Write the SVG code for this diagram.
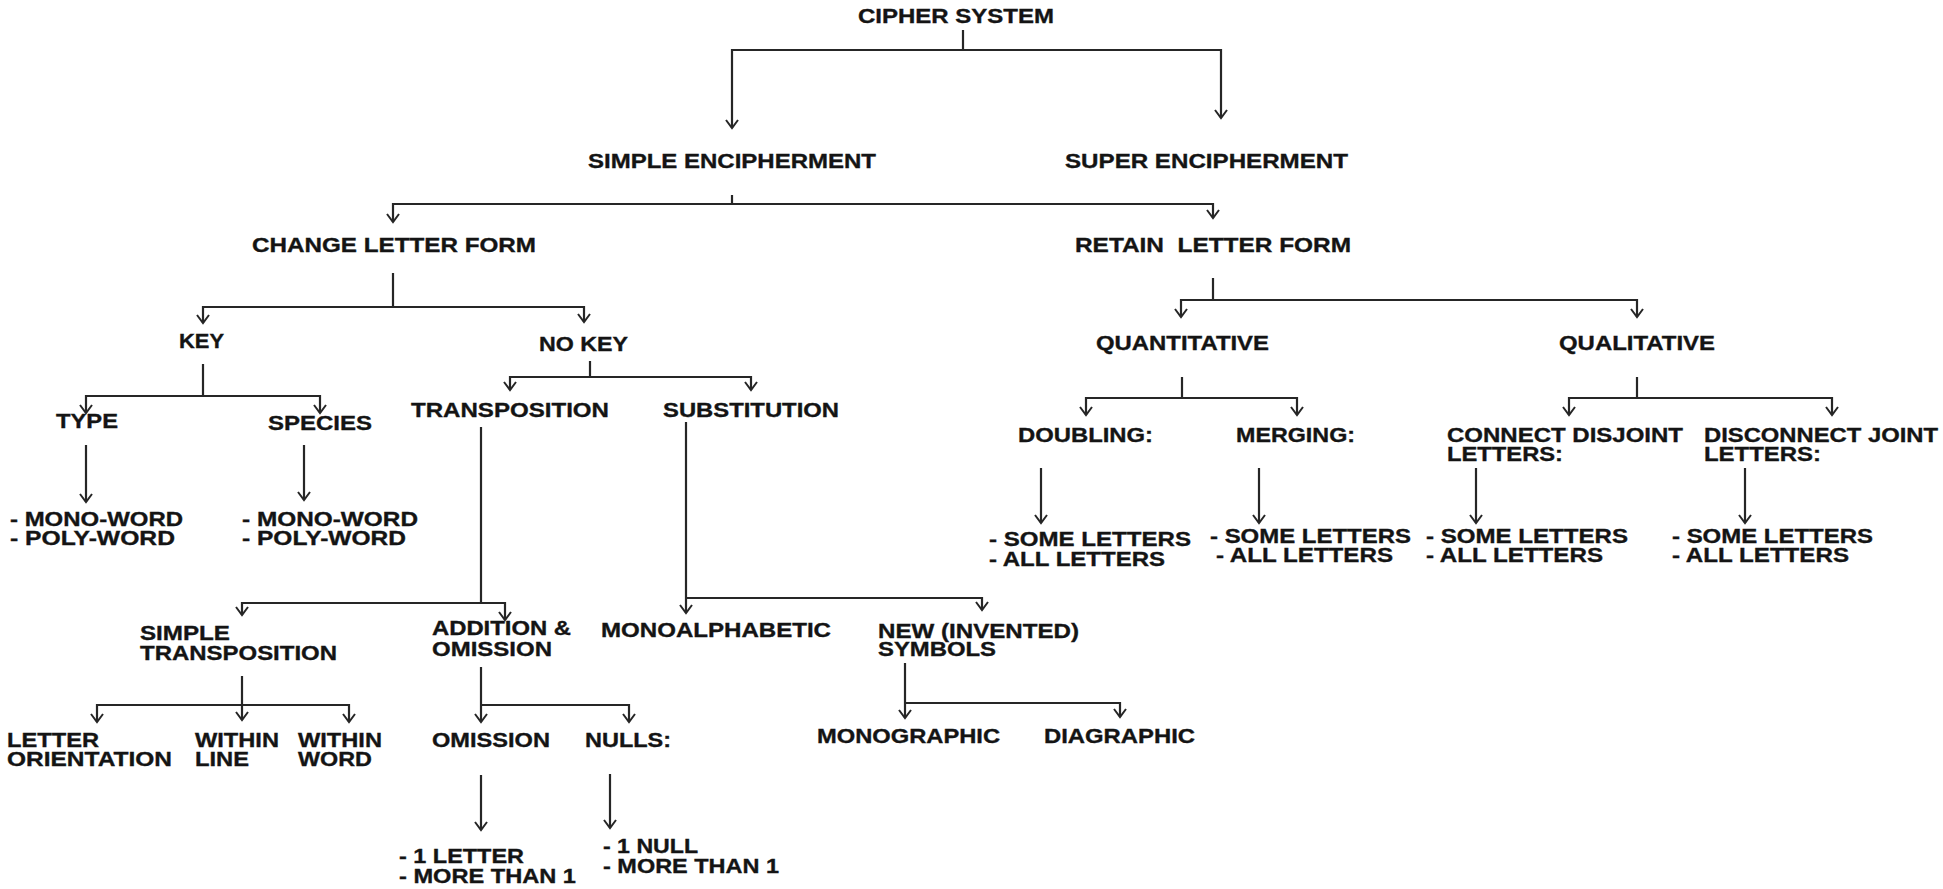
<svg xmlns="http://www.w3.org/2000/svg" width="1943" height="889" viewBox="0 0 1943 889">
<defs>
<style>
text{font-family:"Liberation Sans",Arial,sans-serif;font-weight:bold;font-size:21px;fill:#141414;stroke:#141414;stroke-width:0.35px;}
.c{fill:none;stroke:#262626;stroke-width:2.2;}
</style>
<marker id="ah" markerUnits="userSpaceOnUse" markerWidth="20" markerHeight="20" refX="0" refY="0" orient="auto" overflow="visible">
<path d="M-8,-6 L0,0 L-8,6" fill="none" stroke="#262626" stroke-width="2"/>
</marker>
</defs>
<rect width="1943" height="889" fill="#ffffff"/>
<g id="connectors">
<path class="c" d="M963 30 V50"/>
<path class="c" d="M963 50 H732 V128" marker-end="url(#ah)"/>
<path class="c" d="M963 50 H1221 V118" marker-end="url(#ah)"/>
<path class="c" d="M732 195 V204"/>
<path class="c" d="M732 204 H393 V222" marker-end="url(#ah)"/>
<path class="c" d="M732 204 H1213 V218" marker-end="url(#ah)"/>
<path class="c" d="M393 273 V307"/>
<path class="c" d="M393 307 H203 V323" marker-end="url(#ah)"/>
<path class="c" d="M393 307 H584 V322" marker-end="url(#ah)"/>
<path class="c" d="M203 364 V396"/>
<path class="c" d="M203 396 H86 V413" marker-end="url(#ah)"/>
<path class="c" d="M203 396 H320 V413" marker-end="url(#ah)"/>
<path class="c" d="M86 445 V502" marker-end="url(#ah)"/>
<path class="c" d="M304 445 V500" marker-end="url(#ah)"/>
<path class="c" d="M590 361 V377"/>
<path class="c" d="M590 377 H510 V390" marker-end="url(#ah)"/>
<path class="c" d="M590 377 H751 V390" marker-end="url(#ah)"/>
<path class="c" d="M481 427 V603"/>
<path class="c" d="M481 603 H242 V615" marker-end="url(#ah)"/>
<path class="c" d="M481 603 H505 V620" marker-end="url(#ah)"/>
<path class="c" d="M686 422 V613" marker-end="url(#ah)"/>
<path class="c" d="M686 598 H982 V610" marker-end="url(#ah)"/>
<path class="c" d="M242 676 V720" marker-end="url(#ah)"/>
<path class="c" d="M242 705 H97 V722" marker-end="url(#ah)"/>
<path class="c" d="M242 705 H349 V722" marker-end="url(#ah)"/>
<path class="c" d="M481 667 V722" marker-end="url(#ah)"/>
<path class="c" d="M481 705 H629 V722" marker-end="url(#ah)"/>
<path class="c" d="M481 775 V830" marker-end="url(#ah)"/>
<path class="c" d="M610 774 V828" marker-end="url(#ah)"/>
<path class="c" d="M905 663 V718" marker-end="url(#ah)"/>
<path class="c" d="M905 703 H1120 V717" marker-end="url(#ah)"/>
<path class="c" d="M1213 278 V300"/>
<path class="c" d="M1213 300 H1181 V317" marker-end="url(#ah)"/>
<path class="c" d="M1213 300 H1637 V317" marker-end="url(#ah)"/>
<path class="c" d="M1182 377 V398"/>
<path class="c" d="M1182 398 H1086 V415" marker-end="url(#ah)"/>
<path class="c" d="M1182 398 H1297 V415" marker-end="url(#ah)"/>
<path class="c" d="M1637 377 V398"/>
<path class="c" d="M1637 398 H1569 V415" marker-end="url(#ah)"/>
<path class="c" d="M1637 398 H1832 V415" marker-end="url(#ah)"/>
<path class="c" d="M1041 468 V523" marker-end="url(#ah)"/>
<path class="c" d="M1259 468 V523" marker-end="url(#ah)"/>
<path class="c" d="M1476 468 V523" marker-end="url(#ah)"/>
<path class="c" d="M1745 468 V523" marker-end="url(#ah)"/>
</g>
<g id="cipher-system"><text x="858" y="23" textLength="196" lengthAdjust="spacingAndGlyphs">CIPHER SYSTEM</text></g>
<g id="simple-encipherment"><text x="588" y="168" textLength="288" lengthAdjust="spacingAndGlyphs">SIMPLE ENCIPHERMENT</text></g>
<g id="super-encipherment"><text x="1065" y="168" textLength="283" lengthAdjust="spacingAndGlyphs">SUPER ENCIPHERMENT</text></g>
<g id="change-letter-form"><text x="252" y="252" textLength="284" lengthAdjust="spacingAndGlyphs">CHANGE LETTER FORM</text></g>
<g id="retain-letter-form"><text x="1075" y="252" textLength="276" lengthAdjust="spacingAndGlyphs" xml:space="preserve">RETAIN  LETTER FORM</text></g>
<g id="key"><text x="179" y="348" textLength="45" lengthAdjust="spacingAndGlyphs">KEY</text></g>
<g id="no-key"><text x="539" y="351" textLength="89" lengthAdjust="spacingAndGlyphs">NO KEY</text></g>
<g id="type"><text x="56" y="428" textLength="62" lengthAdjust="spacingAndGlyphs">TYPE</text></g>
<g id="species"><text x="268" y="430" textLength="104" lengthAdjust="spacingAndGlyphs">SPECIES</text></g>
<g id="type-list">
<text x="10" y="526" textLength="173" lengthAdjust="spacingAndGlyphs">- MONO-WORD</text>
<text x="10" y="545" textLength="165" lengthAdjust="spacingAndGlyphs">- POLY-WORD</text>
</g>
<g id="species-list">
<text x="242" y="526" textLength="176" lengthAdjust="spacingAndGlyphs">- MONO-WORD</text>
<text x="242" y="545" textLength="164" lengthAdjust="spacingAndGlyphs">- POLY-WORD</text>
</g>
<g id="transposition"><text x="411" y="417" textLength="198" lengthAdjust="spacingAndGlyphs">TRANSPOSITION</text></g>
<g id="substitution"><text x="663" y="417" textLength="176" lengthAdjust="spacingAndGlyphs">SUBSTITUTION</text></g>
<g id="simple-transposition">
<text x="140" y="640" textLength="90" lengthAdjust="spacingAndGlyphs">SIMPLE</text>
<text x="140" y="660" textLength="197" lengthAdjust="spacingAndGlyphs">TRANSPOSITION</text>
</g>
<g id="addition-omission">
<text x="432" y="635" textLength="139" lengthAdjust="spacingAndGlyphs">ADDITION &amp;</text>
<text x="432" y="656" textLength="120" lengthAdjust="spacingAndGlyphs">OMISSION</text>
</g>
<g id="monoalphabetic"><text x="601" y="637" textLength="230" lengthAdjust="spacingAndGlyphs">MONOALPHABETIC</text></g>
<g id="new-invented-symbols">
<text x="878" y="638" textLength="201" lengthAdjust="spacingAndGlyphs">NEW (INVENTED)</text>
<text x="878" y="656" textLength="118" lengthAdjust="spacingAndGlyphs">SYMBOLS</text>
</g>
<g id="letter-orientation">
<text x="7" y="747" textLength="92" lengthAdjust="spacingAndGlyphs">LETTER</text>
<text x="7" y="766" textLength="165" lengthAdjust="spacingAndGlyphs">ORIENTATION</text>
</g>
<g id="within-line">
<text x="195" y="747" textLength="84" lengthAdjust="spacingAndGlyphs">WITHIN</text>
<text x="195" y="766" textLength="54" lengthAdjust="spacingAndGlyphs">LINE</text>
</g>
<g id="within-word">
<text x="298" y="747" textLength="84" lengthAdjust="spacingAndGlyphs">WITHIN</text>
<text x="298" y="766" textLength="74" lengthAdjust="spacingAndGlyphs">WORD</text>
</g>
<g id="omission"><text x="432" y="747" textLength="118" lengthAdjust="spacingAndGlyphs">OMISSION</text></g>
<g id="nulls"><text x="585" y="747" textLength="86" lengthAdjust="spacingAndGlyphs">NULLS:</text></g>
<g id="omission-list">
<text x="399" y="863" textLength="125" lengthAdjust="spacingAndGlyphs">- 1 LETTER</text>
<text x="399" y="883" textLength="177" lengthAdjust="spacingAndGlyphs">- MORE THAN 1</text>
</g>
<g id="nulls-list">
<text x="603" y="853" textLength="95" lengthAdjust="spacingAndGlyphs">- 1 NULL</text>
<text x="603" y="873" textLength="176" lengthAdjust="spacingAndGlyphs">- MORE THAN 1</text>
</g>
<g id="monographic"><text x="817" y="743" textLength="183" lengthAdjust="spacingAndGlyphs">MONOGRAPHIC</text></g>
<g id="diagraphic"><text x="1044" y="743" textLength="151" lengthAdjust="spacingAndGlyphs">DIAGRAPHIC</text></g>
<g id="quantitative"><text x="1096" y="350" textLength="173" lengthAdjust="spacingAndGlyphs">QUANTITATIVE</text></g>
<g id="qualitative"><text x="1559" y="350" textLength="156" lengthAdjust="spacingAndGlyphs">QUALITATIVE</text></g>
<g id="doubling"><text x="1018" y="442" textLength="135" lengthAdjust="spacingAndGlyphs">DOUBLING:</text></g>
<g id="merging"><text x="1236" y="442" textLength="119" lengthAdjust="spacingAndGlyphs">MERGING:</text></g>
<g id="connect-disjoint">
<text x="1447" y="442" textLength="236" lengthAdjust="spacingAndGlyphs">CONNECT DISJOINT</text>
<text x="1447" y="461" textLength="116" lengthAdjust="spacingAndGlyphs">LETTERS:</text>
</g>
<g id="disconnect-joint">
<text x="1704" y="442" textLength="234" lengthAdjust="spacingAndGlyphs">DISCONNECT JOINT</text>
<text x="1704" y="461" textLength="117" lengthAdjust="spacingAndGlyphs">LETTERS:</text>
</g>
<g id="doubling-list">
<text x="989" y="546" textLength="202" lengthAdjust="spacingAndGlyphs">- SOME LETTERS</text>
<text x="989" y="566" textLength="176" lengthAdjust="spacingAndGlyphs">- ALL LETTERS</text>
</g>
<g id="merging-list">
<text x="1210" y="543" textLength="201" lengthAdjust="spacingAndGlyphs">- SOME LETTERS</text>
<text x="1216" y="562" textLength="177" lengthAdjust="spacingAndGlyphs">- ALL LETTERS</text>
</g>
<g id="connect-list">
<text x="1426" y="543" textLength="202" lengthAdjust="spacingAndGlyphs">- SOME LETTERS</text>
<text x="1426" y="562" textLength="177" lengthAdjust="spacingAndGlyphs">- ALL LETTERS</text>
</g>
<g id="disconnect-list">
<text x="1672" y="543" textLength="201" lengthAdjust="spacingAndGlyphs">- SOME LETTERS</text>
<text x="1672" y="562" textLength="177" lengthAdjust="spacingAndGlyphs">- ALL LETTERS</text>
</g>
</svg>
